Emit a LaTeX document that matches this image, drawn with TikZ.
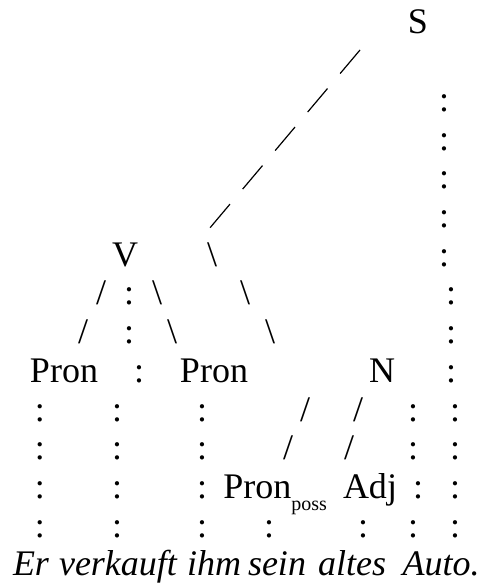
\documentclass[tikz,border=0pt]{standalone}
\usepackage{fontspec}
\setmainfont{Liberation Serif}
\usepackage{tikz}

\newcommand{\rowy}[1]{34+38.7*#1} % baseline of text row #1

\begin{document}
\begin{tikzpicture}[x=0.5pt, y=-0.5pt,
                every node/.style={inner sep=0pt, anchor=base, font=\fontsize{18}{20}\selectfont}, % glyphs sit on baselines
                word/.style={font=\fontsize{18}{20}\selectfont\itshape}, % words of the sentence
                link/.style={dash pattern=on 15.4pt off 9.8pt, line width=0.6pt} % long dashed branch from S
                ]
                \useasboundingbox (0,0) rectangle (486,587);
                % categories
                \node (S) at (418,{\rowy{0}}) {S};
                \node (V) at (125,{\rowy{6}}) {V};
                \node (pron1) at (64,{\rowy{9}}) {Pron};
                \node (pron2) at (214,{\rowy{9}}) {Pron};
                \node (N) at (382,{\rowy{9}}) {N};
                \node[anchor=base west] (pposs) at (223,{\rowy{12}}) {Pron\raisebox{-6pt}{\fontsize{10}{12}\selectfont poss}};
                \node (adj) at (370,{\rowy{12}}) {Adj};
                % branch from S
                \coordinate (top) at (360,50);
                \coordinate (bend) at (209,229);
                \draw[link] (top) -- (bend);
                % slashes
                \foreach \x/\r/\g [count=\i] in {212/6/\textbackslash, 101/7/{/}, 157/7/\textbackslash, 245/7/\textbackslash,
                                      83/8/{/}, 172/8/\textbackslash, 270/8/\textbackslash,
                                      305/10/{/}, 358/10/{/}, 288/11/{/}, 349/11/{/}}
                    \node (sl\i) at (\x,{\rowy{\r}}) {\g};
                % colons under S
                \foreach \r in {2,...,6}
                    \node (sc\r) at (444,{\rowy{\r}}) {:};
                \foreach \r in {7,8,9}
                    \node (sc\r) at (451,{\rowy{\r}}) {:};
                \foreach \r in {10,...,13}
                    \node (sc\r) at (455,{\rowy{\r}}) {:};
                % colons under V
                \node (vc7) at (129,{\rowy{7}}) {:};
                \node (vc8) at (129,{\rowy{8}}) {:};
                \node (vc9) at (139,{\rowy{9}}) {:};
                % colons above the words
                \foreach \x/\n in {40/er, 117/vk, 202/ihm}
                    \foreach \r in {10,...,13}
                        \node (\n\r) at (\x,{\rowy{\r}}) {:};
                \foreach \r/\x in {10/413, 11/413, 12/418, 13/413}
                    \node (pc\r) at (\x,{\rowy{\r}}) {:};
                \node (sein13) at (269,{\rowy{13}}) {:};
                \node (alt13) at (363,{\rowy{13}}) {:};
                % sentence
                \foreach \x/\w/\n in {31/Er/er, 118/verkauft/vk, 214/ihm/ihm, 277/sein/sein, 352/altes/alt, 441/Auto./auto}
                    \node[word] (w\n) at (\x,{\rowy{14}}) {\w};
            \end{tikzpicture}
\end{document}
